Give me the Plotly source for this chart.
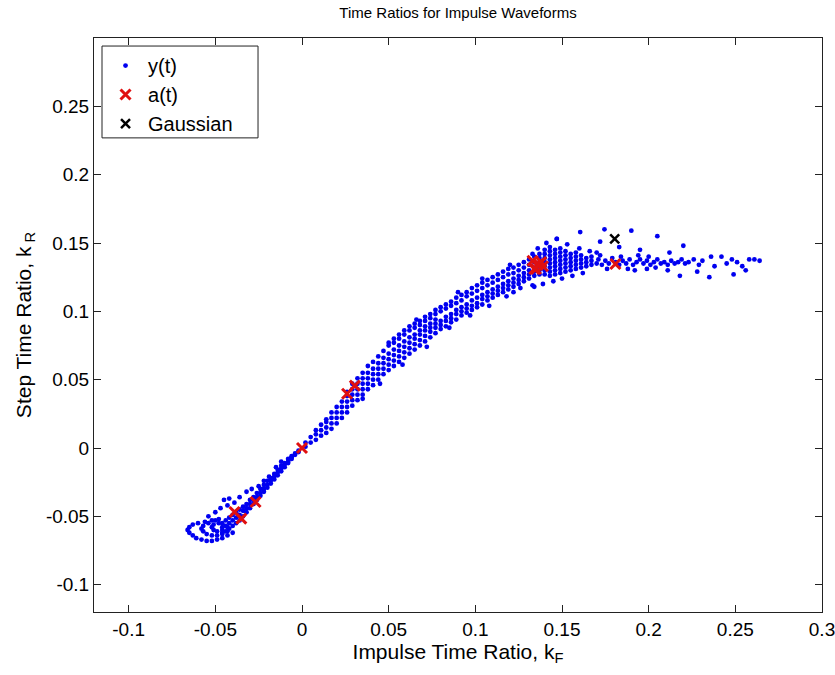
import plotly.graph_objects as go

# ---------------- data ----------------
# y(t): lower-left curls
yt_curl = [(-0.048,-0.052),(-0.052,-0.053),(-0.056,-0.054),(-0.060,-0.055),(-0.063,-0.056),
           (-0.065,-0.058),(-0.066,-0.060),(-0.065,-0.062),(-0.063,-0.064),(-0.061,-0.066),
           (-0.058,-0.067),(-0.055,-0.068),(-0.052,-0.068),(-0.049,-0.067),(-0.046,-0.066),
           (-0.043,-0.064),(-0.040,-0.062),
           (-0.050,-0.053),(-0.054,-0.055),(-0.057,-0.057),(-0.058,-0.059),(-0.057,-0.061),
           (-0.055,-0.063),(-0.052,-0.064),(-0.049,-0.064),(-0.046,-0.063),(-0.043,-0.061),
           (-0.048,-0.055),(-0.051,-0.056),(-0.052,-0.058),(-0.051,-0.060),(-0.049,-0.061),
           (-0.046,-0.060),(-0.043,-0.058),
           (-0.054,-0.050),(-0.050,-0.047),(-0.047,-0.044),(-0.045,-0.038),(-0.042,-0.037),
           (-0.039,-0.040),(-0.032,-0.032),(-0.025,-0.028),(-0.019,-0.021),(-0.015,-0.014),
           (-0.036,-0.036),(-0.029,-0.030),(-0.022,-0.024),(-0.012,-0.010),(-0.043,-0.042)]

# y(t): dense band for negative ratios (x, [y values])
yt_neg_cols = [(-0.046,[-0.062,-0.058,-0.055]),(-0.044,[-0.061,-0.057,-0.053]),
               (-0.042,[-0.059,-0.055,-0.051]),(-0.040,[-0.057,-0.053,-0.049]),
               (-0.038,[-0.055,-0.051,-0.047]),(-0.036,[-0.053,-0.049,-0.045]),
               (-0.034,[-0.050,-0.046,-0.043]),(-0.032,[-0.047,-0.044,-0.041]),
               (-0.030,[-0.044,-0.041,-0.038]),(-0.028,[-0.041,-0.038,-0.036]),
               (-0.026,[-0.038,-0.036,-0.033]),(-0.024,[-0.035,-0.033,-0.030]),
               (-0.022,[-0.032,-0.030,-0.027]),(-0.020,[-0.029,-0.027,-0.024]),
               (-0.018,[-0.026,-0.024,-0.022]),(-0.016,[-0.023,-0.021,-0.019]),
               (-0.014,[-0.020,-0.018,-0.016]),(-0.012,[-0.017,-0.015,-0.013]),
               (-0.010,[-0.014,-0.012,-0.011]),(-0.008,[-0.011,-0.010,-0.008]),
               (-0.006,[-0.008,-0.007,-0.006]),(-0.004,[-0.005,-0.004]),(-0.002,[-0.003,-0.002])]

# y(t): dense band for positive ratios (x, [y values])
yt_pos_cols = [(0.002,[0.001,0.004]),(0.005,[0.004,0.008]),(0.008,[0.006,0.010,0.013]),
               (0.011,[0.009,0.013,0.017]),(0.014,[0.011,0.015,0.019,0.021]),
               (0.017,[0.014,0.018,0.022,0.026]),(0.020,[0.018,0.022,0.026,0.030]),
               (0.023,[0.022,0.026,0.030,0.034]),(0.026,[0.026,0.030,0.034,0.038,0.041]),
               (0.029,[0.031,0.035,0.039,0.043,0.047]),(0.032,[0.035,0.039,0.043,0.047,0.051]),
               (0.035,[0.039,0.043,0.047,0.051,0.055]),(0.038,[0.043,0.047,0.051,0.055,0.060]),
               (0.041,[0.046,0.050,0.054,0.058,0.063]),(0.044,[0.050,0.054,0.058,0.062,0.067]),
               (0.047,[0.054,0.058,0.062,0.066,0.071]),(0.050,[0.057,0.061,0.065,0.069,0.075,0.077]),
               (0.053,[0.060,0.064,0.068,0.072,0.077,0.080]),(0.056,[0.063,0.067,0.071,0.075,0.080,0.083]),
               (0.059,[0.066,0.070,0.074,0.078,0.083,0.086]),(0.062,[0.069,0.073,0.077,0.081,0.086,0.089]),
               (0.065,[0.072,0.076,0.080,0.083,0.088,0.091]),(0.068,[0.075,0.079,0.083,0.086,0.090,0.093]),
               (0.071,[0.078,0.082,0.086,0.089,0.093,0.096]),(0.074,[0.081,0.085,0.088,0.091,0.095,0.098]),
               (0.077,[0.084,0.088,0.091,0.094,0.098,0.101]),(0.080,[0.087,0.090,0.093,0.100,0.103]),
               (0.083,[0.089,0.093,0.096,0.102,0.105]),(0.086,[0.092,0.095,0.098,0.104,0.107]),
               (0.089,[0.094,0.098,0.101,0.106,0.110]),(0.092,[0.097,0.100,0.103,0.108,0.112]),
               (0.095,[0.099,0.102,0.105,0.111,0.114]),(0.098,[0.101,0.104,0.108,0.113,0.117]),
               (0.101,[0.103,0.106,0.110,0.115,0.119]),(0.104,[0.105,0.109,0.112,0.117,0.121]),
               (0.107,[0.108,0.111,0.114,0.119,0.123]),(0.110,[0.110,0.113,0.116,0.121,0.125]),
               (0.113,[0.112,0.115,0.118,0.123,0.127]),(0.116,[0.114,0.117,0.120,0.125,0.129]),
               (0.119,[0.116,0.119,0.122,0.127,0.131]),(0.122,[0.118,0.121,0.124,0.128,0.132]),
               (0.125,[0.120,0.123,0.126,0.130,0.134]),(0.128,[0.122,0.125,0.128,0.132,0.136]),
               (0.131,[0.124,0.127,0.130,0.134,0.138]),(0.134,[0.126,0.129,0.132,0.136,0.140])]

# y(t): scattered points along the band edges
yt_edges = [(0.035,0.036),(0.045,0.047),(0.058,0.061),(0.072,0.074),(0.085,0.088),
            (0.097,0.097),(0.108,0.104),(0.118,0.111),(0.126,0.117),(0.133,0.119),
            (0.122,0.114),(0.090,0.114),(0.120,0.134),(0.066,0.094),(0.104,0.124)]

# y(t): dense cluster near kF = 0.14..0.17
yt_cluster_cols = [(0.137,[0.127,0.130,0.133,0.136,0.139,0.142]),
                   (0.140,[0.127,0.130,0.133,0.136,0.139,0.142,0.145]),
                   (0.143,[0.126,0.129,0.132,0.135,0.138,0.141,0.144,0.147]),
                   (0.146,[0.127,0.130,0.133,0.136,0.139,0.142,0.145]),
                   (0.149,[0.128,0.131,0.134,0.137,0.140,0.143,0.146]),
                   (0.152,[0.129,0.132,0.135,0.138,0.141,0.144]),
                   (0.155,[0.130,0.133,0.136,0.139,0.142]),
                   (0.158,[0.131,0.134,0.137,0.140,0.143]),
                   (0.161,[0.132,0.135,0.138,0.141]),
                   (0.164,[0.133,0.136,0.139]),
                   (0.167,[0.134,0.137,0.140])]
yt_cluster_extra = [(0.133,0.142),(0.136,0.146),(0.141,0.150),(0.147,0.153),(0.153,0.149),
                    (0.160,0.146),(0.166,0.144),(0.170,0.143),(0.145,0.122),(0.150,0.124),
                    (0.156,0.126),(0.162,0.128),(0.139,0.120),(0.134,0.118)]

# y(t): horizontal tail
yt_tail = [(0.170,0.135),(0.171,0.138),(0.173,0.134),(0.175,0.137),(0.177,0.135),(0.179,0.139),
           (0.181,0.136),(0.183,0.134),(0.185,0.137),(0.187,0.135),(0.189,0.138),(0.191,0.134),
           (0.193,0.136),(0.195,0.138),(0.197,0.135),(0.199,0.137),(0.201,0.134),(0.203,0.136),
           (0.205,0.138),(0.207,0.135),(0.209,0.136),(0.211,0.134),(0.213,0.137),(0.215,0.135),
           (0.217,0.136),(0.219,0.138),(0.221,0.135),(0.223,0.136),
           (0.172,0.141),(0.176,0.131),(0.184,0.140),(0.188,0.131),(0.194,0.141),(0.200,0.140),
           (0.204,0.132),
           (0.226,0.138),(0.229,0.134),(0.231,0.137),(0.236,0.140),(0.238,0.133),(0.242,0.140),
           (0.245,0.135),(0.251,0.136),(0.254,0.133),(0.258,0.138),(0.261,0.138),(0.264,0.137),
           (0.248,0.138),
           (0.218,0.126),(0.235,0.125),(0.249,0.127),(0.256,0.130),(0.211,0.130),(0.199,0.131),
           (0.228,0.129),(0.192,0.130)]

# y(t): outliers above the tail
yt_outliers = [(0.1605,0.158),(0.1745,0.160),(0.190,0.159),(0.205,0.155),(0.220,0.148),
               (0.147,0.153),(0.183,0.147),(0.172,0.151),(0.195,0.145),(0.212,0.143)]

# a(t) markers
at_x = [-0.0389,-0.0350,-0.0268,0.0,0.0260,0.0305,0.1364,0.1390,0.1350,0.1380,0.1330,0.1360,0.1340,0.1808]
at_y = [-0.0468,-0.0517,-0.0395,0.0,0.0397,0.0456,0.1346,0.1330,0.1310,0.1360,0.1370,0.1340,0.1310,0.1346]

# Gaussian marker
gauss_x = [0.1804]
gauss_y = [0.153]

x_ticks = [-0.1, -0.05, 0, 0.05, 0.1, 0.15, 0.2, 0.25, 0.3]
x_tick_labels = ["-0.1", "-0.05", "0", "0.05", "0.1", "0.15", "0.2", "0.25", "0.3"]
y_ticks = [-0.1, -0.05, 0, 0.05, 0.1, 0.15, 0.2, 0.25]
y_tick_labels = ["-0.1", "-0.05", "0", "0.05", "0.1", "0.15", "0.2", "0.25"]

# ---------------- assemble y(t) ----------------
yt_x, yt_y = [], []
for pts in (yt_curl, yt_edges, yt_cluster_extra, yt_tail, yt_outliers):
    for px, py in pts:
        yt_x.append(px); yt_y.append(py)
for cols in (yt_neg_cols, yt_pos_cols, yt_cluster_cols):
    for cx, ys in cols:
        for cy in ys:
            yt_x.append(cx); yt_y.append(cy)

FONT = "Liberation Sans, Arial, Helvetica, sans-serif"

fig = go.Figure()
fig.add_trace(go.Scatter(x=yt_x, y=yt_y, mode="markers", name="y(t)",
                         marker=dict(color="#0000f0", size=4.8, line=dict(width=0))))
fig.add_trace(go.Scatter(x=at_x, y=at_y, mode="markers", name="a(t)",
                         marker=dict(symbol="x-thin", size=10, color="#e01010",
                                     line=dict(width=3, color="#e01010"))))
fig.add_trace(go.Scatter(x=gauss_x, y=gauss_y, mode="markers", name="Gaussian",
                         marker=dict(symbol="x-thin", size=9, color="black",
                                     line=dict(width=2.5, color="black"))))

axis_common = dict(showline=True, linecolor="#222222", linewidth=1, mirror="ticks",
                   ticks="inside", ticklen=7, tickcolor="#222222", showgrid=False,
                   zeroline=False, automargin=False, ticklabeloverflow="allow",
                   tickfont=dict(family=FONT, size=19, color="black"))

fig.update_layout(
    width=835, height=675,
    margin=dict(l=94, r=13, t=38, b=63),
    paper_bgcolor="white", plot_bgcolor="white",
    font=dict(family=FONT, color="black"),
    title=dict(text="Time Ratios for Impulse Waveforms", x=0.5, xref="paper", xanchor="center",
               y=1 - 13 / 675, yanchor="middle", font=dict(family=FONT, size=15, color="black")),
    xaxis=dict(range=[-0.12, 0.3], tickvals=x_ticks, ticktext=x_tick_labels,
               title=dict(text="Impulse Time Ratio, k<sub>F</sub>", standoff=4,
                          font=dict(family=FONT, size=21)), **axis_common),
    yaxis=dict(range=[-0.12, 0.3], tickvals=y_ticks, ticktext=y_tick_labels,
               title=dict(text="Step Time Ratio, k<sup> </sup><sub>R</sub>", standoff=8,
                          font=dict(family=FONT, size=21)), **axis_common),
    legend=dict(x=0.0124, y=0.986, xanchor="left", yanchor="top", bgcolor="rgba(0,0,0,0)",
                borderwidth=0, itemwidth=35,
                font=dict(family=FONT, size=20, color="black"), tracegroupgap=0),
    showlegend=True,
    # legend frame (MATLAB legend box)
    shapes=[dict(type="rect", xref="paper", yref="paper", x0=0.011, x1=0.2253, y0=0.826, y1=0.986,
                 line=dict(color="#222222", width=1), fillcolor="white", layer="above")],
)

fig.write_html("out.html", config={"displayModeBar": False, "staticPlot": True})

# remove the browser's default page margin so the figure sits at (0, 0)
with open("out.html", "r", encoding="utf-8") as f:
    html = f.read()
html = html.replace("<head>", "<head><style>html,body{margin:0;padding:0;overflow:hidden;}</style>", 1)
with open("out.html", "w", encoding="utf-8") as f:
    f.write(html)
